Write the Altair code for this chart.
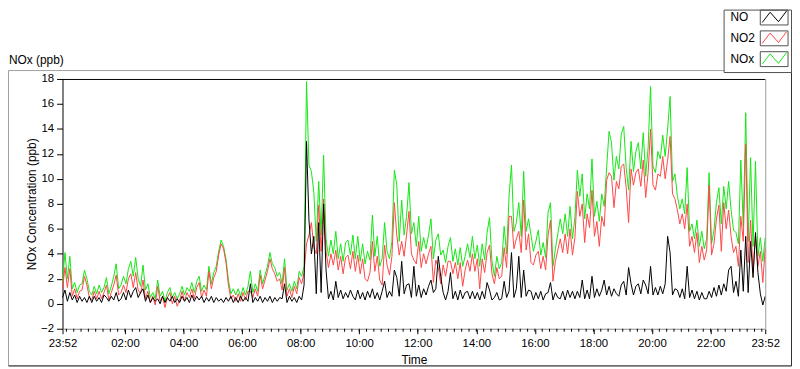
import altair as alt
import pandas as pd

# ---------------- data (5-minute readings, 23:52 -> 23:52) ----------------
NOx = [
    1.8, 4.1, 2.0, 3.8, 1.2, 1.7, 0.9, 1.5, 1.6, 2.7, 2.0, 1.0,
    0.7, 1.4, 0.8, 1.5, 0.9, 1.3, 2.1, 0.8, 1.4, 2.2, 3.2, 1.2,
    1.5, 2.2, 1.6, 2.8, 3.4, 2.2, 3.7, 2.0, 1.4, 3.1, 1.1, 1.6,
    0.5, 0.9, 0.4, 1.9, 0.6, 1.0, 0.2, 0.9, 1.3, 0.5, 0.9, 0.4,
    0.8, 1.4, 0.7, 1.3, 1.0, 1.7, 0.9, 1.8, 2.2, 1.0, 1.5, 1.1,
    3.0, 1.6, 2.5, 3.0, 4.2, 5.1, 4.6, 3.6, 1.9, 0.8, 1.2, 0.7,
    1.2, 0.6, 1.3, 0.7, 1.4, 2.6, 0.9, 1.6, 1.0, 2.7, 1.6, 2.3,
    3.0, 4.1, 3.2, 2.9, 2.2, 2.5, 1.6, 3.6, 1.1, 1.6, 1.0, 1.8,
    1.2, 2.6, 2.2, 3.0, 17.8, 11.1, 10.6, 8.9, 5.0, 9.8, 5.5, 11.9,
    5.2, 3.8, 5.1, 4.0, 5.8, 3.6, 4.8, 3.4, 4.9, 5.1, 3.9, 5.5,
    3.6, 5.4, 3.4, 4.8, 3.2, 4.2, 3.5, 7.1, 3.8, 5.4, 3.0, 3.6,
    6.5, 4.2, 3.6, 5.0, 10.7, 9.5, 5.0, 8.3, 5.5, 7.0, 9.7, 5.6,
    6.5, 4.6, 7.0, 4.2, 5.3, 4.4, 5.5, 6.8, 3.6, 5.1, 5.6, 3.9,
    4.3, 3.3, 4.6, 5.3, 3.4, 4.4, 3.1, 4.5, 3.0, 3.8, 4.8, 3.7,
    5.4, 3.6, 4.7, 3.0, 4.8, 3.5, 5.7, 6.9, 3.4, 2.2, 3.8, 2.8,
    3.3, 6.2, 4.0, 8.6, 11.1, 5.8, 6.5, 8.1, 5.4, 10.6, 5.8, 6.8,
    5.5, 4.2, 5.0, 5.9, 3.9, 4.9, 3.7, 7.3, 8.1, 3.0, 4.4, 5.6,
    6.8, 5.6, 7.2, 5.4, 7.8, 5.2, 6.9, 10.7, 8.6, 10.4, 6.8, 8.8,
    7.6, 11.6, 7.0, 8.2, 6.6, 8.8, 7.8, 10.9, 13.8, 12.9, 9.9, 11.8,
    10.8, 13.6, 14.2, 10.9, 9.1, 13.0, 10.6, 12.2, 12.9, 10.8, 13.7, 10.2,
    12.5, 17.4, 11.0, 10.5, 12.2, 11.6, 13.5, 11.8, 14.0, 16.6, 9.8, 10.4,
    8.6, 7.6, 8.4, 7.2, 10.9, 5.8, 6.4, 5.2, 6.7, 4.6, 5.8, 4.4,
    5.2, 10.5, 4.8, 5.9, 8.1, 9.3, 6.4, 9.4, 7.6, 9.8, 7.5, 5.9,
    5.7, 4.8, 11.5, 6.2, 15.3, 5.0, 11.7, 4.6, 11.4, 3.8, 5.3, 3.4, 5.3,
]
NO2 = [
    1.2, 2.9, 1.3, 2.8, 0.6, 1.2, 0.4, 1.0, 1.1, 2.2, 1.5, 0.5,
    0.3, 1.0, 0.4, 1.0, 0.4, 0.9, 1.5, 0.3, 0.9, 1.5, 2.3, 0.7,
    0.9, 1.5, 0.9, 2.0, 2.4, 1.3, 2.5, 1.1, 0.8, 1.9, 0.4, 1.0,
    0.1, 0.6, -0.1, 1.4, 0.2, 0.6, -0.3, 0.5, 0.9, 0.0, 0.6, -0.2,
    0.3, 1.0, 0.2, 0.9, 0.5, 1.2, 0.4, 1.3, 1.7, 0.5, 1.1, 0.6,
    2.6, 1.2, 2.1, 2.6, 3.9, 4.8, 4.4, 3.3, 1.5, 0.4, 0.7, 0.2,
    0.8, 0.2, 0.9, 0.3, 1.0, 1.0, 0.5, 1.2, 0.6, 2.3, 1.2, 1.9,
    2.6, 3.6, 2.8, 2.4, 1.8, 2.0, 1.1, 2.9, 0.6, 1.2, 0.5, 1.4,
    0.8, 2.1, 1.6, 2.5, 4.8, 5.5, 6.5, 4.5, 4.0, 7.9, 4.2, 8.4,
    4.2, 2.9, 4.0, 3.1, 4.3, 2.7, 3.8, 2.4, 3.7, 3.9, 2.8, 4.2,
    2.6, 3.9, 2.4, 3.6, 2.0, 1.8, 2.5, 5.0, 2.6, 3.8, 1.9, 1.5,
    4.7, 3.1, 2.3, 3.8, 8.1, 5.5, 3.9, 5.0, 3.8, 5.5, 7.4, 4.0,
    3.5, 3.2, 5.0, 2.9, 4.0, 3.2, 4.0, 4.6, 1.7, 3.5, 2.9, 1.6,
    3.1, 2.2, 3.4, 3.4, 2.4, 3.3, 2.0, 3.3, 1.4, 2.7, 3.5, 2.6,
    4.0, 2.6, 3.6, 1.2, 3.6, 2.5, 4.1, 4.7, 2.4, 1.6, 2.9, 2.0,
    2.2, 4.5, 2.9, 7.0, 7.0, 4.4, 5.2, 5.8, 4.1, 8.3, 4.3, 5.6,
    3.3, 3.1, 3.9, 4.2, 2.8, 3.8, 2.7, 5.5, 6.7, 1.8, 3.4, 4.3,
    5.2, 4.1, 5.6, 4.0, 6.0, 3.9, 5.3, 9.0, 7.0, 8.0, 4.9, 7.2,
    6.1, 9.1, 5.4, 6.6, 4.6, 7.0, 6.2, 9.9, 10.5, 10.2, 7.7, 9.8,
    9.2, 11.0, 11.2, 9.3, 6.5, 10.8, 9.5, 10.5, 10.8, 9.4, 11.5, 8.5,
    10.5, 14.0, 9.5, 9.1, 10.4, 10.2, 11.8, 10.0, 11.5, 13.4, 8.8, 8.4,
    7.5, 6.4, 7.2, 6.0, 8.0, 4.6, 5.4, 4.1, 5.7, 3.3, 4.6, 3.5,
    4.3, 9.5, 3.9, 4.8, 6.8, 7.9, 4.2, 8.1, 6.0, 7.5, 5.4, 4.1,
    4.6, 3.0, 7.0, 5.0, 12.8, 3.3, 6.7, 2.5, 5.5, 3.0, 4.2, 1.7, 4.5,
]
NO = [
    0.5, 1.1, 0.2, 0.9, 0.3, 0.7, 0.1, 0.6, 0.2, 0.5, 0.1, 0.6,
    0.1, 0.6, 0.2, 0.5, 0.1, 0.7, 0.5, 0.2, 0.6, 0.3, 0.9, 0.2,
    0.4, 0.9, 0.3, 1.1, 0.5, 1.0, 1.3, 0.5, 0.9, 1.2, 0.2, 0.7,
    0.1, 0.5, 0.2, 0.4, 0.0, 0.6, 0.1, 0.5, 0.2, 0.6, 0.1, 0.4,
    0.1, 0.6, 0.2, 0.5, 0.1, 0.7, 0.2, 0.6, 0.3, 0.6, 0.1, 0.5,
    0.2, 0.6, 0.1, 0.5, 0.2, 0.4, 0.1, 0.5, 0.2, 0.6, 0.1, 0.5,
    0.1, 0.6, 0.2, 0.5, 0.2, 1.6, 0.1, 0.5, 0.2, 0.6, 0.1, 0.5,
    0.2, 0.6, 0.1, 0.5, 0.2, 0.5, 0.4, 1.6, 0.1, 0.6, 0.2, 0.5,
    0.1, 0.6, 0.3, 1.5, 13.0, 6.7, 4.0, 5.4, 0.8, 6.5, 0.9, 8.0,
    2.7, 0.4, 1.0, 0.3, 1.8, 0.5, 1.1, 0.4, 0.9, 0.5, 1.1, 0.6,
    0.3, 1.1, 0.4, 0.9, 0.3, 1.0, 0.5, 1.2, 0.4, 0.9, 0.3, 1.0,
    1.8, 0.5, 1.0, 0.6, 2.7, 2.1, 0.6, 3.4, 0.8, 1.5, 1.6, 0.5,
    3.0, 0.6, 1.5, 0.5, 1.2, 0.7, 1.4, 1.9, 0.9, 1.2, 3.8, 2.2,
    0.9, 0.3, 1.0, 2.5, 0.4, 1.0, 0.3, 1.1, 0.4, 0.9, 1.0, 0.4,
    1.0, 0.4, 0.9, 0.3, 1.0, 0.4, 1.7, 1.1, 0.3, 0.5, 0.9, 0.3,
    0.4, 1.8, 0.5, 1.0, 4.1, 0.5, 1.2, 3.8, 0.5, 2.7, 0.6, 1.1,
    1.0, 0.3, 0.9, 0.4, 1.0, 0.3, 0.8, 0.9, 1.7, 0.3, 0.9, 0.5,
    0.4, 1.0, 0.3, 1.1, 0.5, 1.0, 0.4, 1.0, 0.5, 1.9, 0.4, 1.1,
    0.4, 2.2, 0.5, 1.2, 0.6, 1.1, 1.9, 0.7, 1.4, 0.6, 1.2, 0.8,
    0.6, 1.5, 1.8, 0.7, 2.9, 1.6, 0.7, 1.4, 1.6, 0.8, 1.9, 1.5,
    0.8, 3.0, 0.7, 1.3, 0.7, 1.4, 0.8, 1.6, 5.4, 4.1, 0.7, 1.2,
    1.1, 0.5, 1.2, 0.4, 3.0, 0.5, 1.1, 0.4, 1.0, 0.3, 0.9, 0.4,
    0.4, 1.0, 0.5, 1.3, 0.6, 1.5, 0.7, 1.6, 1.0, 2.7, 3.0, 0.9,
    1.8, 0.6, 4.3, 1.0, 5.4, 0.9, 5.0, 2.1, 5.7, 2.5, 0.8, -0.1, 0.6,
]

series_names = ["NO", "NO2", "NOx"]
series_colors = ["#000000", "#ff4646", "#14e614"]
y_ticks = [-2, 0, 2, 4, 6, 8, 10, 12, 14, 16, 18]
x_tick_labels = ["23:52", "02:00", "04:00", "06:00", "08:00", "10:00", "12:00",
                 "14:00", "16:00", "18:00", "20:00", "22:00", "23:52"]

FONT = "Liberation Sans"

times = pd.date_range("2000-01-01 23:52", periods=len(NO), freq="5min")
wide = pd.DataFrame({"time": times, "NO": NO, "NO2": NO2, "NOx": NOx})
long = wide.melt("time", var_name="series", value_name="value")


def dt(t):
    return alt.DateTime(year=int(t.year), month=int(t.month), date=int(t.day),
                        hours=int(t.hour), minutes=int(t.minute))


tick_times = ([times[0]]
              + [pd.Timestamp("2000-01-02 " + s) for s in x_tick_labels[1:-1]]
              + [times[-1]])
minor = pd.DataFrame({"time": pd.date_range("2000-01-02 00:00", "2000-01-02 23:45", freq="15min")})
one = pd.DataFrame({"k": [0]})
leg = pd.DataFrame({"series": series_names})

W, H = 709, 252

xscale = alt.Scale(domain=[dt(times[0]), dt(times[-1])], nice=False)
yscale = alt.Scale(domain=[-2, 18], nice=False, zero=False)
cscale = alt.Scale(domain=series_names, range=series_colors)

xaxis = alt.Axis(values=[dt(t) for t in tick_times], format="%H:%M", grid=False,
                 labelFont=FONT, labelFontSize=11.5, labelColor="#000",
                 labelBaseline="middle", labelPadding=10, labelOverlap=False, labelFlush=False,
                 tickColor="#000", tickSize=5, domainColor="#8c8c8c",
                 title="Time", titleFont=FONT, titleFontSize=12, titleFontWeight="normal",
                 titleColor="#000", titleY=31.5, titleBaseline="middle")
yaxis = alt.Axis(values=y_ticks, grid=False, labelFont=FONT, labelFontSize=11.5,
                 labelColor="#000", labelPadding=3, tickColor="#000", tickSize=6,
                 domainColor="#000", title="NOx Concentration (ppb)", titleFont=FONT,
                 titleFontSize=12, titleFontWeight="normal", titleColor="#000",
                 titleX=-31, titleY=H / 2, titleAngle=-90, titleBaseline="middle",
                 titleAlign="center")

X = alt.X("time:T", scale=xscale, axis=xaxis)
Y = alt.Y("value:Q", scale=yscale, axis=yaxis)
C = alt.Color("series:N", scale=cscale, legend=None)

base = alt.Chart(long).mark_line(strokeWidth=1).encode(x=X, y=Y, color=C)
lines = [base.transform_filter(alt.datum.series == s) for s in ["NOx", "NO2", "NO"]]

minor_ticks = alt.Chart(minor).mark_rule(color="#000", strokeWidth=1).encode(
    x=X, y=alt.value(H), y2=alt.value(H + 3))
top_border = alt.Chart(one).mark_rule(color="#000").encode(
    x=alt.value(0), x2=alt.value(W), y=alt.value(0.5))
right_border = alt.Chart(one).mark_rule(color="#9a9a9a").encode(
    x=alt.value(W + 0.5), y=alt.value(0), y2=alt.value(H))

main = alt.layer(*lines, minor_ticks, top_border, right_border)

# outer frame
frame = alt.Chart(one).mark_rect(fillOpacity=0, stroke="#a0a0a0", strokeWidth=1).encode(
    x=alt.value(-54.5), x2=alt.value(735.5), y=alt.value(-8.5), y2=alt.value(289.5))
frame_b = alt.Chart(one).mark_rule(color="#303030").encode(
    x=alt.value(-54.5), x2=alt.value(735.5), y=alt.value(289.5))
frame_r = alt.Chart(one).mark_rule(color="#303030").encode(
    x=alt.value(735.5), y=alt.value(-8.5), y2=alt.value(289.5))

title = alt.Chart(one).mark_text(text="NOx (ppb)", align="left", baseline="middle",
                                 font=FONT, fontSize=12, color="#000").encode(
    x=alt.value(-54), y=alt.value(-19))

# legend
leg_box = alt.Chart(one).mark_rect(fill="white", stroke="#505050", strokeWidth=1).encode(
    x=alt.value(667.5), x2=alt.value(735.5), y=alt.value(-69.5), y2=alt.value(-6.5))
LY = alt.Y("series:N", scale=alt.Scale(type="point", domain=series_names,
                                        range=[-62, -20], padding=0), axis=None)
leg_text = alt.Chart(leg).mark_text(align="left", baseline="middle", font=FONT,
                                    fontSize=12, color="#000").encode(
    x=alt.value(674), y=LY, text="series:N")
RECT = "M-1,-0.536H1V0.536H-1Z"
ZIG = "M-0.86,0.36L-0.29,-0.38L0.31,0.3L0.9,-0.48"
leg_frame = alt.Chart(leg).mark_point(shape=RECT, size=784, filled=False, stroke="#505050",
                                      strokeWidth=1, opacity=1).encode(
    x=alt.value(718), y=LY)
leg_zig = alt.Chart(leg).mark_point(shape=ZIG, size=784, filled=False, strokeWidth=1,
                                    opacity=1).encode(
    x=alt.value(718), y=LY, color=C)

chart = alt.layer(
    frame, frame_b, frame_r, main, title, leg_box, leg_text, leg_frame, leg_zig
).resolve_scale(y="independent").properties(
    width=W, height=H,
    padding={"left": 55, "top": 70, "right": 27, "bottom": 39},
    autosize=alt.AutoSizeParams(type="none"),
    background="white",
).configure_view(strokeWidth=0)

chart.save("out.html", embed_options={"renderer": "svg", "actions": False})
